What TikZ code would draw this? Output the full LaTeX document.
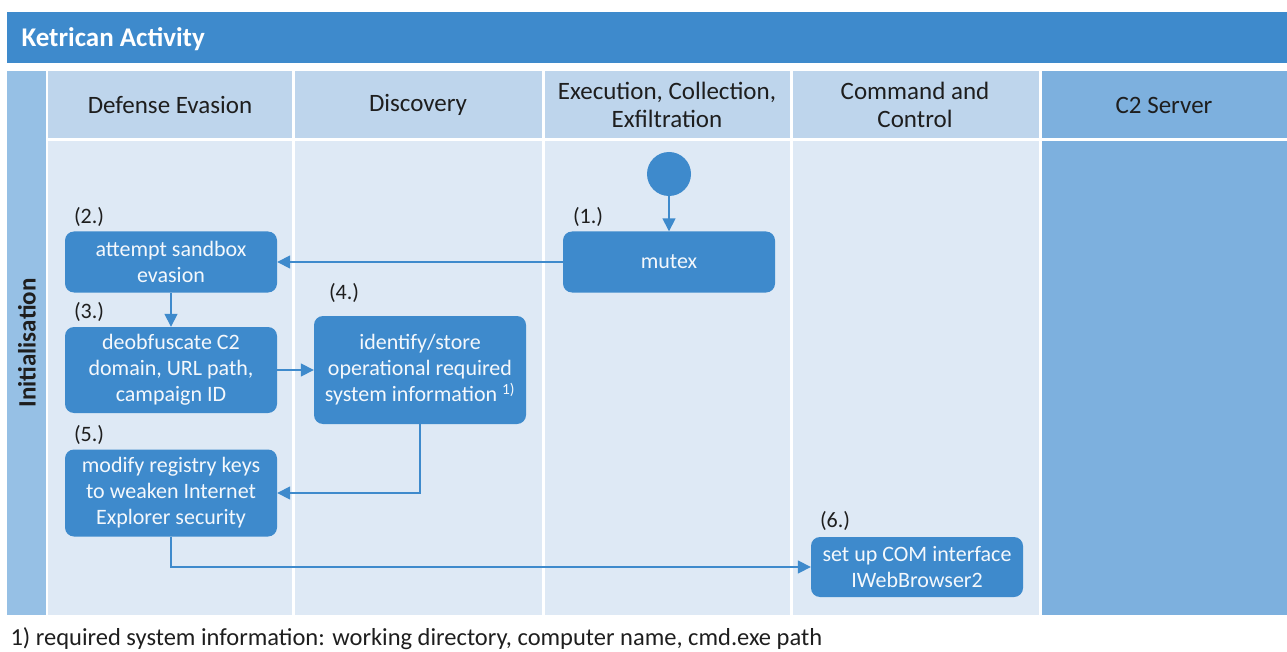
\documentclass[tikz,border=0pt]{standalone}
\usepackage{fontspec}
\setmainfont{Carlito}
\usepackage{xcolor}
\usepackage{tikz}
\usetikzlibrary{arrows.meta}
\definecolor{Ket-A}{RGB}{ 62,138,204}
\definecolor{Ket-lane}{RGB}{150,192,229}
\definecolor{Ket-head}{RGB}{190,213,236}
\definecolor{Ket-body}{RGB}{222,233,245}
\definecolor{Ket-C2}{RGB}{125,176,222}
\definecolor{Ket-text}{RGB}{ 30, 30, 30}
\newcommand\actfont{\fontsize{22}{26}\selectfont}
\newcommand\headfont{\fontsize{25}{28}\selectfont}
\tikzstyle{e}=[draw=Ket-A,line width=1.6pt,arrows={-Triangle[length=13pt,width=13pt]}]
\tikzstyle{act}=[rectangle,rounded corners=9pt,fill=Ket-A,text=white!94!Ket-A,inner sep=0pt,minimum width=212pt,align=center,font=\actfont]
\tikzstyle{start}=[circle,fill=Ket-A,inner sep=0pt,minimum size=44pt]
\tikzstyle{num}=[anchor=south west,inner sep=0pt,text=Ket-text,font=\fontsize{22}{24}\selectfont]
\tikzstyle{head}=[align=center,text=Ket-text,font=\headfont]

\begin{document}
\begin{tikzpicture}[x=1pt,y=-1pt]
\useasboundingbox (0,0) rectangle (1287,652);

% Lanes
\fill[Ket-A] (7,12) rectangle (1287,63);
\node[anchor=west,text=white,font=\fontsize{27}{30}\selectfont\bfseries] (title) at (18,39) {Ketrican Activity};
\fill[Ket-lane] (7,71) rectangle (46,615);
\foreach \xa/\xb in {48/292, 295/542, 545/790, 793/1039} {
  \fill[Ket-head] (\xa,71) rectangle (\xb,138);
  \fill[Ket-body] (\xa,141) rectangle (\xb,615);
}
\fill[Ket-C2] (1042,71) rectangle (1287,138);
\fill[Ket-C2] (1042,141) rectangle (1287,615);

% Headers
\node[head] (evasion)   at (170,105)  {Defense Evasion};
\node[head] (discovery) at (418,105)  {Discovery};
\node[head] (execution) at (667,105)  {Execution, Collection,\\Exfiltration};
\node[head] (command)   at (915,105)  {Command and\\Control};
\node[head] (server)    at (1164,105) {C2 Server};
\node[head,rotate=90,font=\fontsize{25}{28}\selectfont\bfseries] (init) at (27,343) {Initialisation};

% Nodes
\node[start]                  (start)    at (669,174) {};
\node[act,minimum height=61]  (mutex)    at (669,262) {mutex};
\node[act,minimum height=61]  (sandbox)  at (171,262) {attempt sandbox\\evasion};
\node[act,minimum height=86]  (deobf)    at (171,370) {deobfuscate C2\\domain, URL path,\\campaign ID};
\node[act,minimum height=108] (sysinfo)  at (420,370) {identify/store\\operational required\\system information \textsuperscript{1)}};
\node[act,minimum height=87]  (registry) at (171,493) {modify registry keys\\to weaken Internet\\Explorer security};
\node[act,minimum height=60]  (com)      at (917,567) {set up COM interface\\IWebBrowser2};

% Step numbers
\node[num,xshift=10pt,yshift=5pt]  (n1) at (mutex.north west)    {(1.)};
\node[num,xshift=9pt,yshift=5pt]   (n2) at (sandbox.north west)  {(2.)};
\node[num,xshift=9pt,yshift=5pt]   (n3) at (deobf.north west)    {(3.)};
\node[num,xshift=15pt,yshift=13pt] (n4) at (sysinfo.north west)  {(4.)};
\node[num,xshift=9pt,yshift=5pt]   (n5) at (registry.north west) {(5.)};
\node[num,xshift=9pt,yshift=6pt]   (n6) at (com.north west)      {(6.)};

% Edges
\draw (start)   edge[e] (mutex)
      (mutex)   edge[e] (sandbox)
      (sandbox) edge[e] (deobf)
      (deobf)   edge[e] (sysinfo);
\draw[e] (sysinfo) |- (registry);
\draw[e] (registry) |- (com);

% Footnote
\node[anchor=west,text=Ket-text,font=\fontsize{24.5}{28}\selectfont] (note) at (7,639)
  {1) required system information: working directory, computer name, cmd.exe path};

\end{tikzpicture}
\end{document}
